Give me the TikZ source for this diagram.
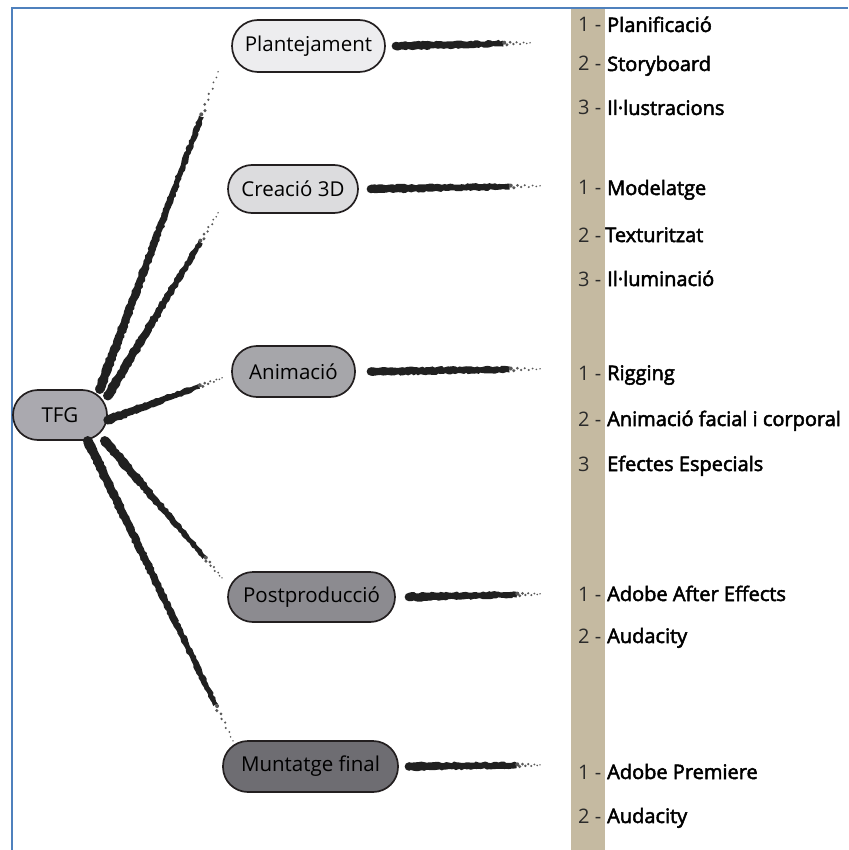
\documentclass[tikz,border=0pt]{standalone}
\usepackage{fontspec}
\setmainfont{Open Sans}
\newfontfamily\labfont[FakeBold=2.5]{Open Sans}
\usetikzlibrary{calc,decorations.pathmorphing}
\definecolor{framec}{HTML}{4F81BD}
\definecolor{stripc}{HTML}{C5BAA1}
\definecolor{brushc}{HTML}{202020}
\definecolor{edgec}{HTML}{231F20}
\definecolor{numc}{HTML}{2B2B2B}
\newcommand\brush[5]{%
  \path (#1) coordinate (bA) (#2) coordinate (bB);
  \coordinate (bM) at ($(bA)!#5!(bB)$);
  \fill[brushc, decorate, decoration={random steps,segment length=2.5pt,amplitude=0.8pt}]
    ($(bA)!#3!90:(bM)$) -- ($(bA)!#3!-90:(bM)$) -- ($(bM)!#4!90:(bA)$) -- ($(bM)!#4!-90:(bA)$) -- cycle;
  \fill[brushc] (bA) circle (#3);
  \foreach \t/\r/\o in {0.04/2.0/0.9, 0.14/1.7/-1.3, 0.26/1.5/1.1, 0.38/1.3/-0.7, 0.5/1.2/1.0, 0.63/1.1/-0.9, 0.76/1.0/0.6, 0.88/0.9/-0.4, 1.0/0.8/0.2}
    \fill[brushc!75] ($(bM)!\t!(bB)!\o pt!90:(bB)$) circle (\r pt);
}
\begin{document}
\begin{tikzpicture}[x=1pt,y=-1pt,
  pill/.style={draw=edgec, line width=1.7pt, rounded corners=#1, inner sep=0pt,
    font=\fontsize{20.5}{24}\selectfont, text=black},
  num/.style={anchor=base west, inner sep=0pt, text=numc, font=\fontsize{20}{24}\selectfont},
  lab/.style={anchor=base west, inner sep=0pt, text=black, font=\labfont\fontsize{20}{24}\selectfont}]
\useasboundingbox (0,0) rectangle (848,850);
% frame and strip
\fill[stripc] (571,8) rectangle (605,850);
\draw[framec, line width=2.5pt] (12,850) -- (12,8) -- (848,8);
% nodes
\node[pill=25pt, fill={rgb,255:red,170;green,169;blue,175}, minimum width=94pt, minimum height=50pt] (tfg) at (60,415) {TFG};
\node[pill=26pt, fill={rgb,255:red,237;green,237;blue,239}, minimum width=153pt, minimum height=52pt] (plan) at (308.5,46) {Plantejament};
\node[pill=24pt, fill={rgb,255:red,220;green,220;blue,222}, minimum width=130pt, minimum height=48pt] (crea) at (293,189) {Creació 3D};
\node[pill=25pt, fill={rgb,255:red,166;green,166;blue,170}, minimum width=123pt, minimum height=51pt] (anim) at (293.5,371.5) {Animació};
\node[pill=25pt, fill={rgb,255:red,140;green,139;blue,144}, minimum width=167pt, minimum height=50pt] (post) at (311.5,597) {Postproducció};
\node[pill=25pt, fill={rgb,255:red,110;green,109;blue,114}, minimum width=175pt, minimum height=51pt] (munt) at (310.5,766.5) {Muntatge final};
% free ends
\coordinate (e1) at (218,72);
\coordinate (e2) at (218,213);
\coordinate (e3) at (222,378);
\coordinate (e4) at (222,578);
\coordinate (e5) at (233,741);
\coordinate (h1) at (530,43);
\coordinate (h2) at (540,186);
\coordinate (h3) at (540,369);
\coordinate (h4) at (540,594);
\coordinate (h5) at (540,765);
% brush connectors from TFG
\brush{tfg.33}{e1}{4.8pt}{2.6pt}{0.86}
\brush{tfg.22}{e2}{4.8pt}{2.6pt}{0.84}
\brush{tfg.-6}{e3}{4.5pt}{2.4pt}{0.8}
\brush{tfg.-30}{e4}{4.8pt}{2.4pt}{0.85}
\brush{tfg.-43}{e5}{4.8pt}{2.6pt}{0.88}
% horizontal brushes
\brush{$(plan.east)+(10,0)$}{h1}{4.2pt}{3pt}{0.8}
\brush{$(crea.east)+(12,0)$}{h2}{4.2pt}{3pt}{0.82}
\brush{$(anim.east)+(15,0)$}{h3}{4.2pt}{3pt}{0.82}
\brush{$(post.east)+(13,0)$}{h4}{4.2pt}{3pt}{0.82}
\brush{$(munt.east)+(10,0)$}{h5}{4.2pt}{3pt}{0.82}
% right labels
\node[num] (n1) at (578,32) {1 -}; \node[lab] (l1) at (607,32) {Planificació};
\node[num] (n2) at (578,71) {2 -}; \node[lab] (l2) at (607,71) {Storyboard};
\node[num] (n3) at (578,115) {3 -}; \node[lab] (l3) at (607,115) {Il·lustracions};
\node[num] (n4) at (578,195) {1 -}; \node[lab] (l4) at (607,195) {Modelatge};
\node[num] (n5) at (578,242) {2 -}; \node[lab] (l5) at (605,242) {Texturitzat};
\node[num] (n6) at (578,286) {3 -}; \node[lab] (l6) at (607,286) {Il·luminació};
\node[num] (n7) at (578,380) {1 -}; \node[lab] (l7) at (607,380) {Rigging};
\node[num] (n8) at (578,426) {2 -}; \node[lab] (l8) at (607,426) {Animació facial i corporal};
\node[num] (n9) at (578,471) {3}; \node[lab] (l9) at (607,471) {Efectes Especials};
\node[num] (n10) at (578,601) {1 -}; \node[lab] (l10) at (607,601) {Adobe After Effects};
\node[num] (n11) at (578,643) {2 -}; \node[lab] (l11) at (607,643) {Audacity};
\node[num] (n12) at (578,779) {1 -}; \node[lab] (l12) at (607,779) {Adobe Premiere};
\node[num] (n13) at (578,823) {2 -}; \node[lab] (l13) at (607,823) {Audacity};
\end{tikzpicture}
\end{document}
